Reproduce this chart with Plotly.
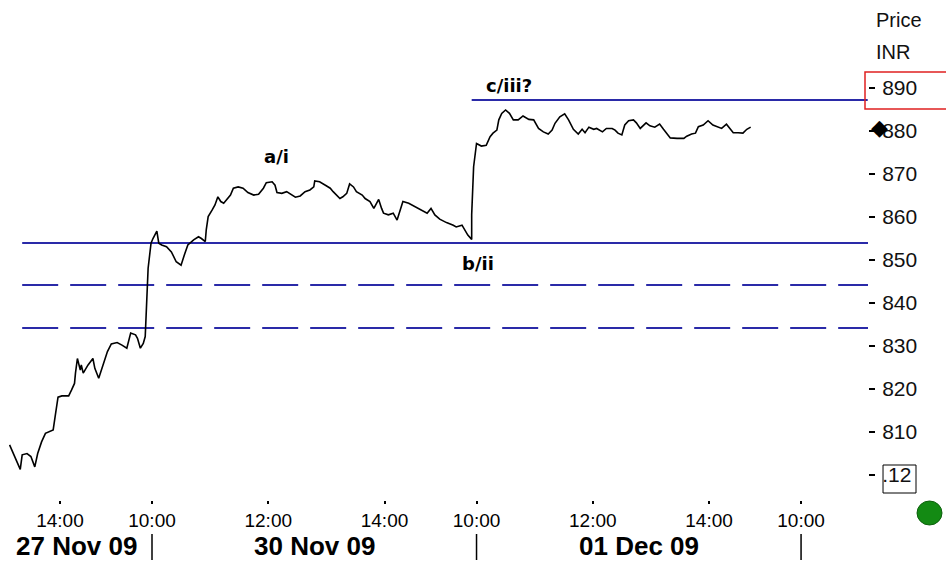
import plotly.graph_objects as go

# ---------------- data ----------------
session_days = ["2009-11-27", "2009-11-30", "2009-12-01", "2009-12-02"]
date_labels = ["27 Nov 09", "30 Nov 09", "01 Dec 09"]

nov27_times = ["13:08", "13:14", "13:19", "13:21", "13:26", "13:30", "13:34", "13:37", "13:41", "13:45",
               "13:50", "13:53", "13:55", "13:57", "13:58", "14:02", "14:09", "14:12", "14:15", "14:16",
               "14:18", "14:21", "14:22", "14:24", "14:29", "14:34", "14:36", "14:40", "14:43", "14:46",
               "14:49", "14:53", "14:59", "15:04", "15:09", "15:13", "15:18", "15:20", "15:23", "15:26", "15:28"]
nov27_prices = [807.0, 803.9, 801.3, 804.7, 805.0, 804.3, 801.9, 805.0, 807.7, 809.7,
                810.2, 810.5, 813.6, 816.0, 818.1, 818.4, 818.4, 819.8, 821.3, 823.7,
                827.1, 824.4, 825.6, 823.7, 825.6, 827.1, 824.8, 822.5, 824.4, 826.3,
                828.7, 830.5, 830.8, 830.2, 829.5, 833.0, 832.6, 831.8, 829.5, 830.6, 832.2]

nov30_times = ["09:56", "09:59", "10:01", "10:05", "10:07", "10:10", "10:15", "10:20", "10:25", "10:30",
               "10:34", "10:37", "10:43", "10:48", "10:51", "10:55", "10:56", "10:58", "11:02", "11:05",
               "11:08", "11:11", "11:14", "11:17", "11:21", "11:24", "11:29", "11:34", "11:39", "11:45",
               "11:50", "11:55", "11:58", "12:04", "12:07", "12:09", "12:14", "12:19", "12:23", "12:28",
               "12:33", "12:38", "12:43", "12:47", "12:48", "12:53", "12:59", "13:04", "13:07", "13:11",
               "13:14", "13:17", "13:21", "13:24", "13:28", "13:31", "13:37", "13:40", "13:45", "13:49",
               "13:52", "13:54", "13:57", "13:59", "14:04", "14:09", "14:13", "14:16", "14:19", "14:25",
               "14:32", "14:38", "14:44", "14:48", "14:52", "14:57", "15:04", "15:11", "15:14", "15:20",
               "15:23", "15:26", "15:30"]
nov30_prices = [848.1, 853.9, 855.0, 856.7, 853.9, 853.5, 853.1, 851.9, 849.6, 848.8,
                851.6, 853.5, 854.7, 855.4, 855.0, 854.3, 857.0, 860.1, 861.6, 862.8,
                864.7, 863.6, 863.2, 864.0, 865.1, 866.7, 867.0, 866.7, 865.7, 865.1,
                865.3, 866.7, 868.0, 868.2, 867.4, 865.7, 865.5, 865.9, 865.3, 864.6,
                864.9, 865.9, 866.3, 867.0, 868.4, 868.2, 867.4, 866.7, 865.9, 865.1,
                864.3, 864.7, 865.5, 867.7, 867.0, 865.9, 865.1, 864.3, 863.6, 862.0,
                863.2, 864.1, 862.0, 860.9, 860.5, 860.9, 859.3, 861.2, 863.6, 863.2,
                862.3, 861.5, 860.9, 862.0, 860.5, 859.5, 858.7, 858.1, 857.7, 858.1,
                857.0, 855.8, 854.8]

dec01_times = ["09:55", "09:57", "10:00", "10:05", "10:10", "10:14", "10:17", "10:21", "10:23", "10:26",
               "10:30", "10:34", "10:38", "10:43", "10:48", "10:54", "10:59", "11:04", "11:09", "11:14",
               "11:18", "11:21", "11:26", "11:31", "11:35", "11:40", "11:45", "11:49", "11:52", "11:56",
               "12:01", "12:04", "12:10", "12:14", "12:20", "12:23", "12:26", "12:30", "12:33", "12:37",
               "12:42", "12:45", "12:49", "12:55", "12:59", "13:04", "13:09", "13:13", "13:16", "13:20",
               "13:27", "13:34", "13:37", "13:42", "13:46", "13:49", "13:54", "13:59", "14:04", "14:08",
               "14:13", "14:18", "14:22", "14:25", "14:30", "14:35", "14:39", "14:43"]
dec01_prices = [860.5, 871.7, 877.1, 876.5, 876.7, 878.7, 879.5, 880.2, 882.6, 884.1,
                884.9, 884.1, 882.6, 882.6, 883.5, 882.7, 882.6, 880.6, 879.8, 879.3,
                880.2, 881.8, 883.3, 884.0, 882.6, 880.4, 879.3, 880.4, 879.6, 880.9,
                880.4, 880.6, 879.8, 880.6, 880.6, 880.2, 879.5, 879.1, 881.4, 882.4,
                882.6, 881.9, 880.6, 881.9, 881.2, 880.9, 881.6, 880.4, 879.5, 878.4,
                878.3, 878.3, 878.8, 879.3, 879.5, 881.0, 881.4, 882.4, 881.4, 881.0,
                880.6, 881.6, 880.4, 879.6, 879.6, 879.5, 880.4, 880.9]

# horizontal levels (support lines and target)
support_level = 853.95
dashed_levels = [844.2, 834.2]
target_level = 887.2

# x-axis ticks
tick_days = ["2009-11-27", "2009-11-30", "2009-11-30", "2009-11-30", "2009-12-01", "2009-12-01", "2009-12-01", "2009-12-02"]
tick_times = ["14:00", "10:00", "12:00", "14:00", "10:00", "12:00", "14:00", "10:00"]

# y-axis ticks
y_tickvals = [800, 810, 820, 830, 840, 850, 860, 870, 880, 890]
y_ticktext = [".12", "810", "820", "830", "840", "850", "860", "870", "880", "890"]

# wave labels
wave_labels = ["a/i", "b/ii", "c/iii?"]
wave_days = ["2009-11-30", "2009-12-01", "2009-12-01"]
wave_times = ["12:08", "10:02", "10:34"]
wave_prices = [874.0, 849.3, 890.5]

# ---------------- trading-time scale ----------------
SESSION_OPEN = 9 * 60 + 55
SESSION_LEN = 335
REF = 1 * SESSION_LEN + 5  # 30 Nov 10:00 -> 0


def tpos(day, hhmm):
    d = session_days.index(day)
    h, m = map(int, hhmm.split(":"))
    return d * SESSION_LEN + (h * 60 + m - SESSION_OPEN) - REF


x_all, y_all = [], []
for day, times, prices in [("2009-11-27", nov27_times, nov27_prices),
                           ("2009-11-30", nov30_times, nov30_prices),
                           ("2009-12-01", dec01_times, dec01_prices)]:
    x_all += [tpos(day, t) for t in times]
    y_all += prices

X_MIN, X_MAX = -156.9, 739.1
Y_MIN, Y_MAX = 794.19, 910.47

BLUE = "#2a2aa8"
FONT = "Liberation Sans, Arial, sans-serif"

fig = go.Figure()

# level lines
lvl_start = tpos("2009-11-27", "13:21")
fig.add_trace(go.Scatter(x=[lvl_start, X_MAX], y=[support_level, support_level], mode="lines",
                         line=dict(color=BLUE, width=2), hoverinfo="skip", showlegend=False))
for lv in dashed_levels:
    fig.add_trace(go.Scatter(x=[lvl_start, X_MAX], y=[lv, lv], mode="lines",
                             line=dict(color=BLUE, width=2, dash="36px,12px"),
                             hoverinfo="skip", showlegend=False))
tgt_start = tpos("2009-12-01", "09:55")
fig.add_trace(go.Scatter(x=[tgt_start, X_MAX - 0.3], y=[target_level, target_level], mode="lines",
                         line=dict(color=BLUE, width=2), hoverinfo="skip", showlegend=False))

# price line
fig.add_trace(go.Scatter(x=x_all, y=y_all, mode="lines",
                         line=dict(color="black", width=1.6), showlegend=False))

annotations = []
for txt, d, t, p in zip(wave_labels, wave_days, wave_times, wave_prices):
    annotations.append(dict(x=tpos(d, t), y=p, xref="x", yref="y", text="<b>%s</b>" % txt,
                            showarrow=False, font=dict(family="DejaVu Sans, Verdana, sans-serif",
                                                       size=18, color="black")))

# last price marker on the axis
annotations.append(dict(x=879 / 868, y=y_all[-1], xref="paper", yref="y", text="\u25c6",
                        showarrow=False, xanchor="center", yanchor="middle",
                        font=dict(family="DejaVu Sans", size=22, color="black")))

annotations += [
    dict(x=874 / 868, y=0.96, xref="paper", yref="paper", text="Price", xanchor="left",
         yanchor="middle", showarrow=False, font=dict(family=FONT, size=20, color="#111")),
    dict(x=874 / 868, y=0.896, xref="paper", yref="paper", text="INR", xanchor="left",
         yanchor="middle", showarrow=False, font=dict(family=FONT, size=20, color="#111")),
]

# date labels centered between session separators
bounds = [X_MIN, tpos("2009-11-30", "10:00"), tpos("2009-12-01", "10:00"), tpos("2009-12-02", "10:00")]
for i, lab in enumerate(date_labels):
    annotations.append(dict(x=(bounds[i] + bounds[i + 1]) / 2, y=-0.092, xref="x", yref="paper",
                            text="<b>%s</b>" % lab, showarrow=False, yanchor="middle",
                            font=dict(family=FONT, size=26, color="black")))

shapes = []
for b in bounds[1:]:
    shapes.append(dict(type="line", xref="x", yref="paper", x0=b, x1=b, y0=-0.068, y1=-0.12,
                       line=dict(color="black", width=1.5)))
# red box round the 890 label
shapes.append(dict(type="rect", xref="paper", yref="paper", x0=865 / 868, x1=1.1, y0=0.782, y1=0.856,
                   line=dict(color="#e02020", width=1.5)))
# box round the .12 label
shapes.append(dict(type="rect", xref="paper", yref="paper", x0=1.0173, x1=1.0553, y0=0.014, y1=0.07,
                   line=dict(color="black", width=1)))
# green status dot
shapes.append(dict(type="circle", xref="paper", yref="paper", x0=917 / 868, x1=942 / 868,
                   y0=-0.05, y1=-0.002, fillcolor="#138a13", line=dict(color="#0d600d", width=1)))

fig.update_layout(
    width=946, height=564,
    margin=dict(l=0, r=78, t=0, b=64),
    paper_bgcolor="white", plot_bgcolor="white",
    showlegend=False,
    annotations=annotations, shapes=shapes,
    xaxis=dict(range=[X_MIN, X_MAX], tickvals=[tpos(d, t) for d, t in zip(tick_days, tick_times)],
               ticktext=tick_times, ticks="outside", ticklen=3, tickcolor="black", tickwidth=2,
               showgrid=False, zeroline=False, showline=False,
               tickfont=dict(family=FONT, size=19, color="black")),
    yaxis=dict(range=[Y_MIN, Y_MAX], side="right", tickvals=y_tickvals, ticktext=y_ticktext,
               ticks="outside", ticklen=6, tickcolor="black", tickwidth=1.5, ticklabelstandoff=3,
               showgrid=False, zeroline=False, showline=False,
               tickfont=dict(family=FONT, size=21, color="#111")),
)

fig.write_html("out.html", config={"displayModeBar": False},
               post_script="document.body.style.margin='0';document.body.style.overflow='hidden';")
